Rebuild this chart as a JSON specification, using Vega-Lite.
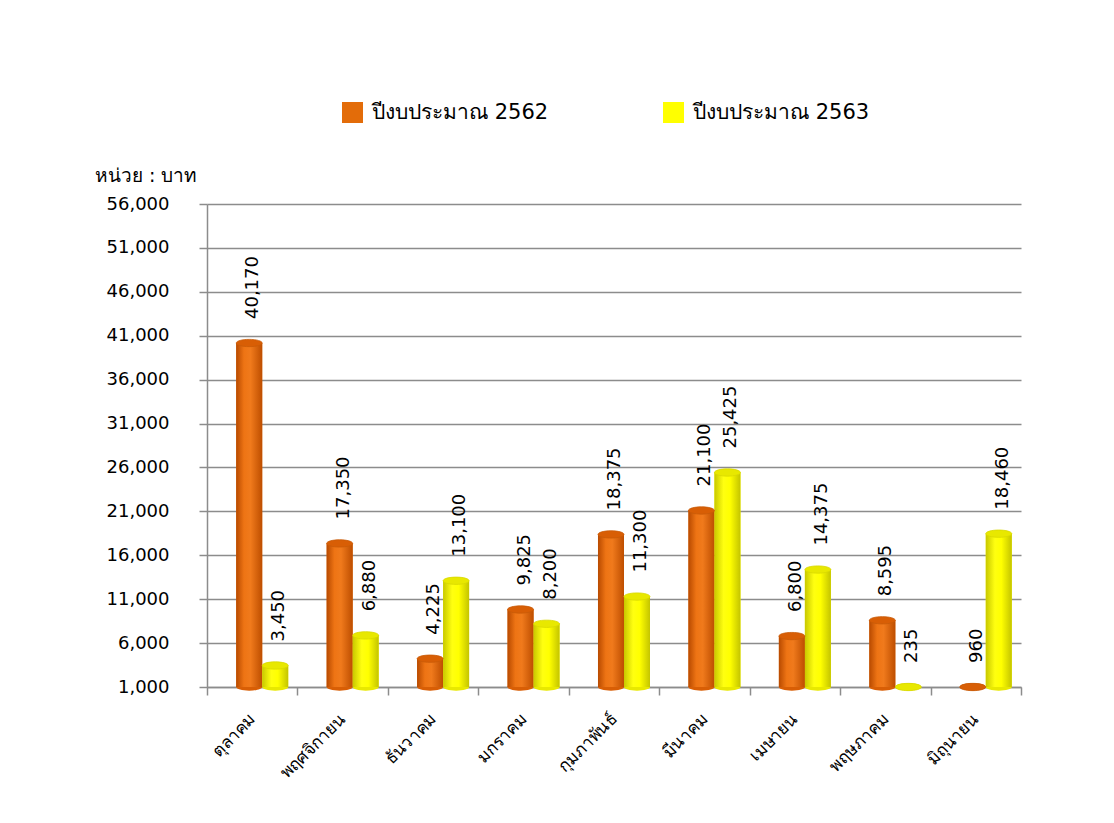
{
  "$schema": "https://vega.github.io/schema/vega-lite/v6.json",
  "width": 814,
  "height": 483,
  "autosize": "none",
  "padding": {"left": 207, "top": 204, "right": 93, "bottom": 136},
  "background": "white",
  "data": {
    "values": [
      {"month": "ตุลาคม", "year": "ปีงบประมาณ 2562", "value": 40170},
      {"month": "ตุลาคม", "year": "ปีงบประมาณ 2563", "value": 3450},
      {"month": "พฤศจิกายน", "year": "ปีงบประมาณ 2562", "value": 17350},
      {"month": "พฤศจิกายน", "year": "ปีงบประมาณ 2563", "value": 6880},
      {"month": "ธันวาคม", "year": "ปีงบประมาณ 2562", "value": 4225},
      {"month": "ธันวาคม", "year": "ปีงบประมาณ 2563", "value": 13100},
      {"month": "มกราคม", "year": "ปีงบประมาณ 2562", "value": 9825},
      {"month": "มกราคม", "year": "ปีงบประมาณ 2563", "value": 8200},
      {"month": "กุมภาพันธ์", "year": "ปีงบประมาณ 2562", "value": 18375},
      {"month": "กุมภาพันธ์", "year": "ปีงบประมาณ 2563", "value": 11300},
      {"month": "มีนาคม", "year": "ปีงบประมาณ 2562", "value": 21100},
      {"month": "มีนาคม", "year": "ปีงบประมาณ 2563", "value": 25425},
      {"month": "เมษายน", "year": "ปีงบประมาณ 2562", "value": 6800},
      {"month": "เมษายน", "year": "ปีงบประมาณ 2563", "value": 14375},
      {"month": "พฤษภาคม", "year": "ปีงบประมาณ 2562", "value": 8595},
      {"month": "พฤษภาคม", "year": "ปีงบประมาณ 2563", "value": 235},
      {"month": "มิถุนายน", "year": "ปีงบประมาณ 2562", "value": 960},
      {"month": "มิถุนายน", "year": "ปีงบประมาณ 2563", "value": 18460}
    ]
  },
  "encoding": {
    "x": {
      "field": "month",
      "type": "nominal",
      "sort": null,
      "scale": {"paddingInner": 0, "paddingOuter": 0},
      "axis": {
        "title": null,
        "labelAngle": -45,
        "labelAlign": "right",
        "labelBaseline": "middle",
        "labelFontSize": 17,
        "labelColor": "#000000",
        "labelPadding": 21,
        "tickBand": "extent",
        "tickSize": 8,
        "tickColor": "#8c8c8c",
        "tickWidth": 1.5,
        "domainColor": "#8c8c8c",
        "domainWidth": 1.5
      }
    },
    "xOffset": {"field": "year", "type": "nominal", "scale": {"paddingInner": 0, "paddingOuter": 0.739, "align": 0.76}},
    "y": {
      "field": "value",
      "type": "quantitative",
      "scale": {"domain": [1000, 56000], "zero": false, "clamp": true, "nice": false},
      "axis": {
        "title": "หน่วย : บาท",
        "titleAngle": 0,
        "titleAlign": "right",
        "titleBaseline": "middle",
        "titleX": -10,
        "titleY": -29,
        "titleFontSize": 19,
        "titleFontWeight": "normal",
        "titleColor": "#000000",
        "values": [1000, 6000, 11000, 16000, 21000, 26000, 31000, 36000, 41000, 46000, 51000, 56000],
        "format": ",d",
        "labelFontSize": 18,
        "labelColor": "#000000",
        "labelPadding": 30,
        "tickSize": 8,
        "tickColor": "#8c8c8c",
        "tickWidth": 1.5,
        "domainColor": "#8c8c8c",
        "domainWidth": 1.5,
        "gridColor": "#8c8c8c",
        "gridWidth": 1.5
      }
    }
  },
  "layer": [
    {
      "mark": {"type": "point", "shape": "M -1 0 A 1 0.28 0 1 0 1 0 A 1 0.28 0 1 0 -1 0 Z", "size": 676, "filled": true, "opacity": 1},
      "encoding": {
        "y": {"datum": 1000},
        "fill": {
          "field": "year",
          "type": "nominal",
          "scale": {"range": ["#D85E05", "#E8E800"]},
          "legend": null
        }
      }
    },
    {
      "mark": {"type": "bar"},
      "encoding": {
        "color": {
          "field": "year",
          "type": "nominal",
          "scale": {"range": ["#E36C09", "#FFFF00"]},
          "legend": {
            "title": null,
            "orient": "none",
            "legendX": 135,
            "legendY": -102,
            "direction": "horizontal",
            "columns": 2,
            "columnPadding": 114,
            "symbolType": "square",
            "symbolSize": 441,
            "symbolStrokeWidth": 0,
            "labelFontSize": 21,
            "labelColor": "#000000",
            "labelLimit": 400,
            "labelOffset": 9
          }
        }
      }
    },
    {
      "transform": [{"filter": "datum.year === 'ปีงบประมาณ 2562'"}],
      "mark": {
        "type": "bar",
        "color": {
          "gradient": "linear", "x1": 0, "x2": 1, "y1": 0, "y2": 0,
          "stops": [
            {"offset": 0, "color": "#B84A00"},
            {"offset": 0.3, "color": "#EE7414"},
            {"offset": 0.55, "color": "#F07A1C"},
            {"offset": 1, "color": "#BE4E00"}
          ]
        }
      }
    },
    {
      "transform": [{"filter": "datum.year === 'ปีงบประมาณ 2563'"}],
      "mark": {
        "type": "bar",
        "color": {
          "gradient": "linear", "x1": 0, "x2": 1, "y1": 0, "y2": 0,
          "stops": [
            {"offset": 0, "color": "#C8C800"},
            {"offset": 0.35, "color": "#FFFF10"},
            {"offset": 0.6, "color": "#FFFF00"},
            {"offset": 1, "color": "#C4C400"}
          ]
        }
      }
    },
    {
      "mark": {"type": "point", "shape": "M -1 0 A 1 0.28 0 1 0 1 0 A 1 0.28 0 1 0 -1 0 Z", "size": 676, "filled": true, "opacity": 1, "strokeWidth": 0.8},
      "encoding": {
        "fill": {
          "field": "year",
          "type": "nominal",
          "scale": {"range": ["#EC7A1E", "#FFFF3A"]},
          "legend": null
        },
        "stroke": {
          "field": "year",
          "type": "nominal",
          "scale": {"range": ["#C85A08", "#D8D800"]},
          "legend": null
        }
      }
    },
    {
      "mark": {"type": "text", "angle": 270, "align": "left", "baseline": "middle", "dx": 24, "dy": 4, "fontSize": 18, "color": "#000000"},
      "encoding": {
        "text": {"field": "value", "type": "quantitative", "format": ",d"}
      }
    }
  ],
  "config": {
    "font": "DejaVu Sans",
    "view": {"stroke": null}
  }
}
